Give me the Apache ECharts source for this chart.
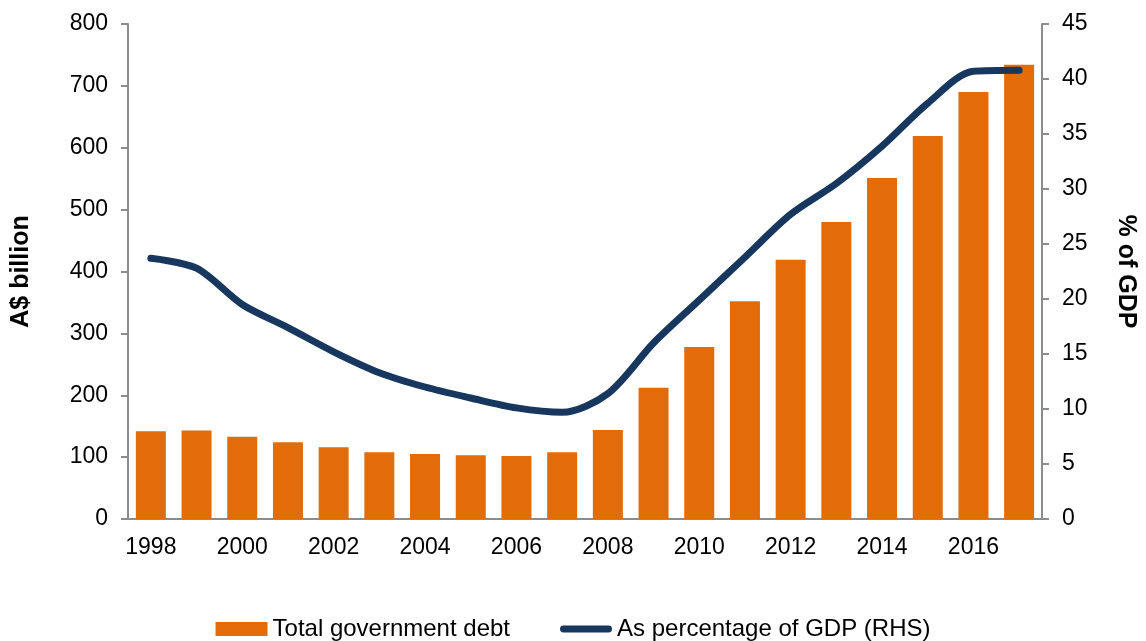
<!DOCTYPE html>
<html>
<head>
<meta charset="utf-8">
<script src="https://cdn.jsdelivr.net/npm/echarts@6/dist/echarts.min.js"></script>
<style>
  html, body { margin: 0; padding: 0; background: #fff; }
  #chart { width: 1146px; height: 641px; }
</style>
</head>
<body>
<div id="chart"></div>
<script>
var years = ['1998', '1999', '2000', '2001', '2002', '2003', '2004', '2005', '2006', '2007',
             '2008', '2009', '2010', '2011', '2012', '2013', '2014', '2015', '2016', '2017'];
// total government debt, A$ billion
var debt = [142, 143, 133, 124, 116, 108, 105, 103, 102, 108,
            144, 212, 278, 352, 419, 480, 551, 619, 690, 734];
// as % of GDP (RHS)
var pctGdp = [23.7, 22.8, 19.5, 17.4, 15.2, 13.3, 12.0, 11.0, 10.1, 9.7,
              11.4, 16.0, 19.9, 23.8, 27.7, 30.5, 33.9, 37.8, 40.7, 40.8];

var axisColor = '#8c8c8c';
var font = 'Liberation Sans, Arial, sans-serif';

var myChart = echarts.init(document.getElementById('chart'));

option = {
    backgroundColor: '#fff',
    textStyle: {fontFamily: font},
    grid: {left: 128, right: 98, top: 24, bottom: 122, containLabel: false},
    legend: {
        top: 612,
        left: 'center',
        itemGap: 50,
        itemWidth: 52,
        itemHeight: 14,
        textStyle: {fontSize: 24, color: '#000', fontFamily: font},
        data: [
            {name: 'Total government debt', icon: 'rect'},
            {name: 'As percentage of GDP (RHS)', icon: 'path://M4,0 L56,0 A4,4 0 0 1 56,8 L4,8 A4,4 0 0 1 4,0 Z'}
        ]
    },
    xAxis: {
        type: 'category',
        data: years,
        boundaryGap: true,
        axisLine: {lineStyle: {color: axisColor, width: 2}},
        axisTick: {interval: 0, length: 7, lineStyle: {color: axisColor, width: 2}},
        axisLabel: {interval: 1, margin: 17, fontSize: 23, color: '#000', fontFamily: font},
        splitLine: {show: false}
    },
    yAxis: [
        {
            type: 'value',
            min: 0,
            max: 800,
            interval: 100,
            name: 'A$ billion',
            nameLocation: 'middle',
            nameGap: 94,
            nameTextStyle: {fontSize: 25, fontWeight: 'bold', color: '#000', fontFamily: font},
            axisLine: {show: true, lineStyle: {color: axisColor, width: 2}},
            axisTick: {show: true, length: 7, lineStyle: {color: axisColor, width: 2}},
            axisLabel: {margin: 20, fontSize: 23, color: '#000', fontFamily: font},
            splitLine: {show: false}
        },
        {
            type: 'value',
            min: 0,
            max: 45,
            interval: 5,
            position: 'right',
            name: '% of GDP',
            nameLocation: 'middle',
            nameRotate: -90,
            nameGap: 71,
            nameTextStyle: {fontSize: 25, fontWeight: 'bold', color: '#000', fontFamily: font},
            axisLine: {show: true, lineStyle: {color: axisColor, width: 2}},
            axisTick: {show: true, length: 7, lineStyle: {color: axisColor, width: 2}},
            axisLabel: {margin: 20, fontSize: 23, color: '#000', fontFamily: font},
            splitLine: {show: false}
        }
    ],
    series: [
        {
            name: 'Total government debt',
            type: 'bar',
            barWidth: 30,
            itemStyle: {color: '#e36c0a'},
            data: debt
        },
        {
            name: 'As percentage of GDP (RHS)',
            type: 'line',
            yAxisIndex: 1,
            smooth: 0.3,
            symbol: 'none',
            lineStyle: {color: '#17375e', width: 7, cap: 'round'},
            itemStyle: {color: '#17375e'},
            data: pctGdp
        }
    ]
};

myChart.setOption(option);
</script>
</body>
</html>
